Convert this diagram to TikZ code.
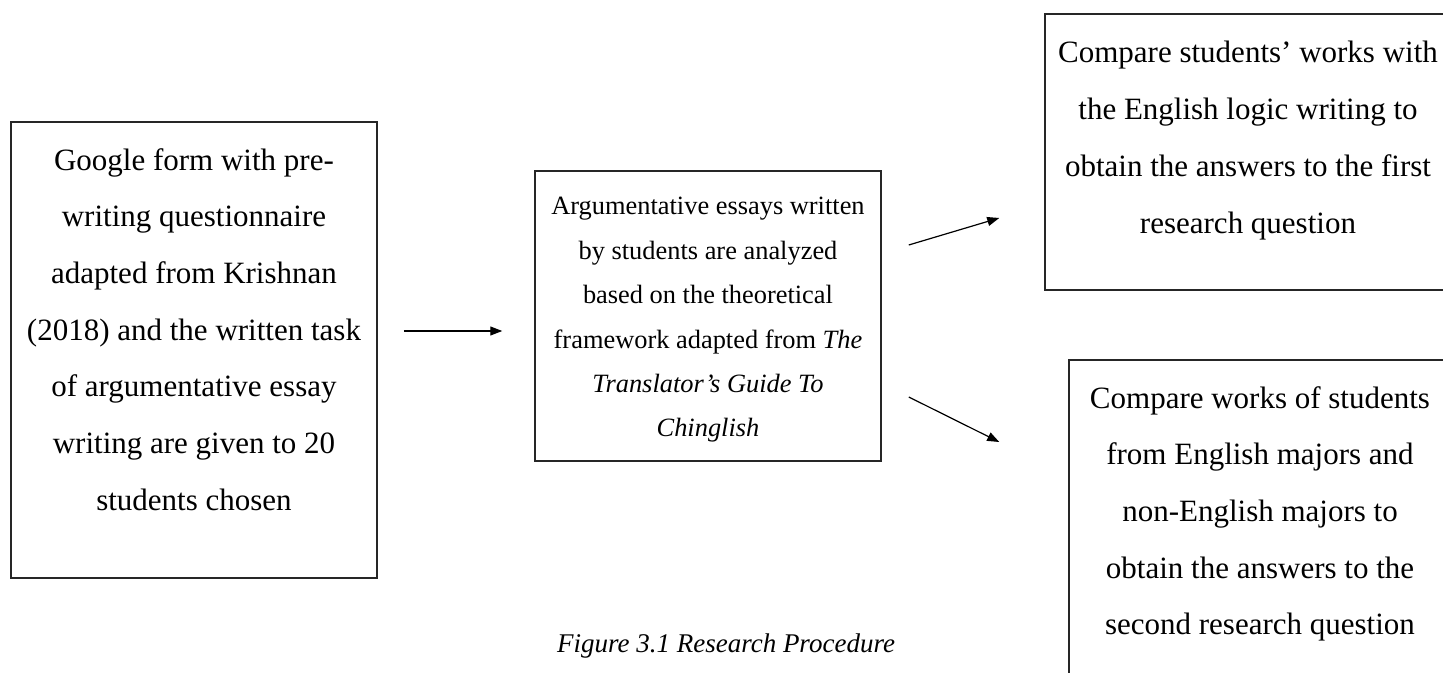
\documentclass[tikz,border=0pt]{standalone}
\usepackage{fontspec}
\setmainfont{Liberation Serif}
\usetikzlibrary{arrows.meta}

% width, height, space above first baseline, font size, line skip, lines
\newcommand{\stagetext}[6]{\parbox[c][#2][t]{#1}{\centering\fontsize{#4}{#5}\selectfont\rule{0pt}{#3}#6}}

\begin{document}
\begin{tikzpicture}[x=0.5pt,y=-0.5pt,
        flow/.style={-{Triangle[length=6pt,width=4.5pt]},line width=0.6pt}]
            \useasboundingbox (0,0) rectangle (1443,673);
            \clip (0,0) rectangle (1443,673);
            \begin{scope}[every node/.style={draw=black!85,line width=0.75pt,inner sep=0pt}]
                \node (form) at (194,350) {\stagetext{183pt}{228pt}{24pt}{15.5pt}{28.35pt}{Google form with pre-\\writing questionnaire\\adapted from Krishnan\\(2018) and the written task\\of argumentative essay\\writing are given to 20\\students chosen}};
                \node (essays) at (708,316) {\stagetext{173pt}{145pt}{22pt}{13.2pt}{22.2pt}{Argumentative essays written\\by students are analyzed\\based on the theoretical\\framework adapted from \textit{The}\\\textit{Translator’s Guide To}\\\textit{Chinglish}}};
                \node (first) at (1248,152) {\stagetext{203pt}{138pt}{24.5pt}{15.5pt}{28.35pt}{Compare students’ works with\\the English logic writing to\\obtain the answers to the first\\research question}};
                \node (second) at (1260,530) {\stagetext{191pt}{170pt}{24pt}{15.5pt}{28.35pt}{Compare works of students\\from English majors and\\non-English majors to\\obtain the answers to the\\second research question}};
            \end{scope}
            \draw[flow] ([xshift=13pt,yshift=9.5pt]form.east) -- ([xshift=-16pt,yshift=-7.5pt]essays.west);
            \draw[flow] ([xshift=13.5pt,yshift=35.5pt]essays.east) -- ([xshift=-22.5pt,yshift=-33pt]first.west);
            \draw[flow] ([xshift=13.5pt,yshift=-40.5pt]essays.east) -- ([xshift=-34.5pt,yshift=44pt]second.west);
            \node[anchor=base,font=\fontsize{13.5pt}{16pt}\selectfont\itshape] (caption) at (726,652) {Figure 3.1 Research Procedure};
        \end{tikzpicture}
\end{document}
